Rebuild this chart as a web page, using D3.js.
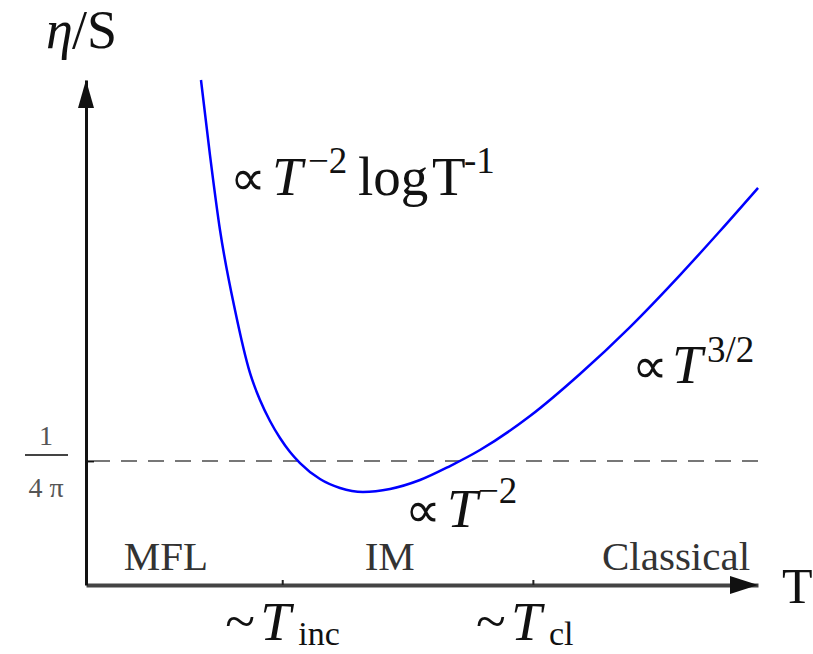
<!DOCTYPE html>
<html>
<head>
<meta charset="utf-8">
<script src="https://cdn.jsdelivr.net/npm/d3@7"></script>
<style>
  body { margin: 0; background: #fff; }
  text { font-family: "Liberation Serif", "Times New Roman", serif; }
</style>
</head>
<body>
<svg id="chart" width="813" height="654"></svg>
<script>
const svg = d3.select("#chart"),
      width = +svg.attr("width"),
      height = +svg.attr("height");

// temperature (arbitrary units) vs eta/s (in units of 1/(4 pi))
const curveT   = [1.711, 1.845, 1.994, 2.217, 2.440, 2.589, 2.738, 2.887, 3.036, 3.185, 3.482, 3.780, 4.122,
                  4.524, 4.970, 5.417, 5.863, 6.607, 7.351, 8.095, 8.839, 9.435, 10.0];
const curveEta = [4.070, 3.465, 2.861, 2.216, 1.709, 1.491, 1.322, 1.185, 1.072, 0.983, 0.854, 0.782, 0.750,
                  0.774, 0.846, 0.959, 1.088, 1.362, 1.701, 2.079, 2.498, 2.853, 3.200];
const kssBound = 1;                 // 1/(4 pi)
const tickT = [2.92, 6.65];         // ~T_inc, ~T_cl
const tickNames = ["inc", "cl"];
const regimes = ["MFL", "IM", "Classical"];
const regimeT = [1.19, 4.52, 8.78];

const x = d3.scaleLinear().domain([0, 10]).range([86, 758]);
const y = d3.scaleLinear().domain([0, 4.07]).range([585, 80]);

// dashed KSS line
svg.append("line")
    .attr("x1", x(0)).attr("x2", x(10))
    .attr("y1", y(kssBound)).attr("y2", y(kssBound))
    .attr("stroke", "#777")
    .attr("stroke-width", 2)
    .attr("stroke-dasharray", "16,11")
    .attr("stroke-dashoffset", -8);

// x axis
const xAxis = d3.axisBottom(x)
    .tickValues(tickT)
    .tickSize(-5)
    .tickSizeOuter(0)
    .tickFormat("");

const gx = svg.append("g")
    .attr("transform", `translate(0,${y(0)})`)
    .call(xAxis);
gx.select(".domain").attr("stroke", "#444").attr("stroke-width", 4);
gx.selectAll(".tick line").attr("stroke", "#222").attr("stroke-width", 2);

// y axis
const yAxis = d3.axisLeft(y)
    .tickValues([kssBound])
    .tickSize(-8)
    .tickSizeOuter(0)
    .tickFormat("");

const gy = svg.append("g")
    .attr("transform", `translate(${x(0)},0)`)
    .call(yAxis);
gy.select(".domain").attr("stroke", "#111").attr("stroke-width", 3);
gy.selectAll(".tick line").attr("stroke", "#111").attr("stroke-width", 2);

// arrow heads
const yTip = y(4.07), xTip = x(10);
svg.append("path")
    .attr("d", `M${x(0)},${yTip} L${x(0) - 8},${yTip + 28} L${x(0) + 8},${yTip + 28} Z`)
    .attr("fill", "#111");
svg.append("path")
    .attr("d", `M${xTip},${y(0)} L${xTip - 28},${y(0) - 9} L${xTip - 28},${y(0) + 9} Z`)
    .attr("fill", "#111");

// curve
const pts = curveT.map((t, i) => ({t: t, e: curveEta[i]}));
const line = d3.line()
    .x(d => x(d.t))
    .y(d => y(d.e))
    .curve(d3.curveMonotoneX);

svg.append("path")
    .datum(pts)
    .attr("d", line)
    .attr("fill", "none")
    .attr("stroke", "#0000ff")
    .attr("stroke-width", 2.5);

// helper for text built from pieces
function label(pieces, color) {
  const t = svg.append("text").attr("fill", color || "#111");
  pieces.forEach(p => {
    t.append("tspan")
      .attr("x", p.x)
      .attr("y", p.y)
      .attr("font-size", p.size)
      .attr("font-style", p.italic ? "italic" : "normal")
      .text(p.t);
  });
  return t;
}

// axis titles
label([
  {t: "η", x: 46, y: 48, size: 54, italic: true},
  {t: "/S", x: 72, y: 48, size: 54}
]);
label([{t: "T", x: 782, y: 603, size: 50}]);

// 1/(4 pi)
svg.append("text")
    .attr("x", 46).attr("y", 445)
    .attr("text-anchor", "middle")
    .attr("font-size", 28)
    .attr("fill", "#555")
    .text("1");
svg.append("line")
    .attr("x1", 25).attr("x2", 68)
    .attr("y1", 455).attr("y2", 455)
    .attr("stroke", "#444").attr("stroke-width", 2);
svg.append("text")
    .attr("x", 46).attr("y", 497)
    .attr("text-anchor", "middle")
    .attr("font-size", 28)
    .attr("fill", "#555")
    .text("4 π");

// regimes
regimes.forEach((r, i) => {
  svg.append("text")
      .attr("x", x(regimeT[i]))
      .attr("y", 570)
      .attr("text-anchor", "middle")
      .attr("font-size", 41)
      .attr("fill", "#333")
      .text(r);
});

// tick labels ~T_inc, ~T_cl
tickT.forEach((t, i) => {
  const cx = x(t);
  label([
    {t: "~", x: cx - 57, y: 640, size: 55},
    {t: "T", x: cx - 22, y: 640, size: 55, italic: true},
    {t: tickNames[i], x: cx + 16, y: 645, size: 34}
  ]);
});

// power-law annotations
label([
  {t: "∝", x: 230, y: 195, size: 50},
  {t: "T", x: 272, y: 195, size: 55, italic: true},
  {t: "−2", x: 308, y: 173, size: 37},
  {t: "log", x: 358, y: 195, size: 55},
  {t: "T", x: 432, y: 195, size: 55},
  {t: "-1", x: 464, y: 173, size: 37}
]);
label([
  {t: "∝", x: 405, y: 527, size: 50},
  {t: "T", x: 447, y: 527, size: 55, italic: true},
  {t: "−2", x: 478, y: 503, size: 37}
]);
label([
  {t: "∝", x: 632, y: 383, size: 50},
  {t: "T", x: 672, y: 383, size: 55, italic: true},
  {t: "3/2", x: 707, y: 362, size: 37}
]);
</script>
</body>
</html>
